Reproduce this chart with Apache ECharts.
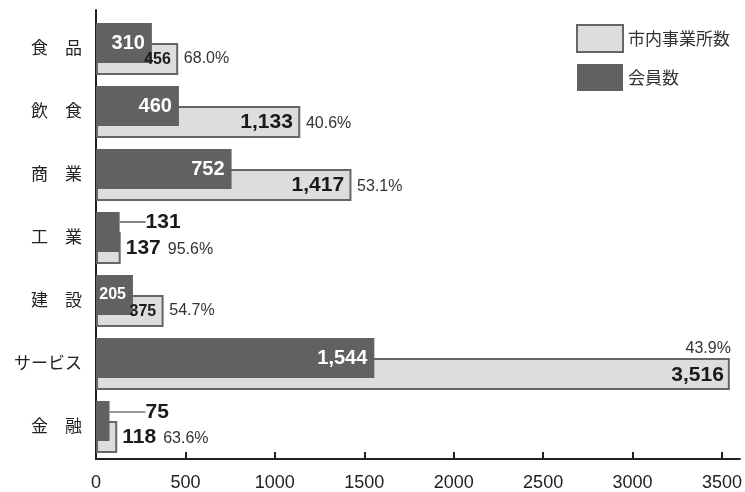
<!DOCTYPE html>
<html>
<head>
<meta charset="utf-8">
<script src="https://cdn.jsdelivr.net/npm/echarts@6/dist/echarts.min.js"></script>
<style>
html, body { margin: 0; padding: 0; background: #fff; }
#chart { width: 745px; height: 492px; }
</style>
</head>
<body>
<div id="chart"></div>
<script>
// 業種別 市内事業所数と会員数
var categories = ['食　品', '飲　食', '商　業', '工　業', '建　設', 'サービス', '金　融'];
var establishments = [456, 1133, 1417, 137, 375, 3516, 118];
var members = [310, 460, 752, 131, 205, 1544, 75];
var memberRates = [68.0, 40.6, 53.1, 95.6, 54.7, 43.9, 63.6];
var xTicks = [0, 500, 1000, 1500, 2000, 2500, 3000, 3500];
var seriesNames = ['市内事業所数', '会員数'];

var numFont = "'Liberation Sans', Arial, sans-serif";
var cjkFont = "'Noto Sans CJK JP', 'Noto Sans', sans-serif";

var narrowIdx = [0, 4];   // 幅の狭いバーは小さい文字
var outsideIdx = [3, 6];  // 値ラベルをバーの外に出す
var aboveIdx = 5;         // サービス：率をバーの上に

function fmt(v) { return v.toLocaleString('en-US'); }
function pct(i) { return memberRates[i].toFixed(1) + '%'; }

var rich = {
    v: { fontFamily: numFont, fontWeight: 'bold', fontSize: 21, color: '#1a1a1a', verticalAlign: 'bottom' },
    vs: { fontFamily: numFont, fontWeight: 'bold', fontSize: 16, color: '#1a1a1a', verticalAlign: 'bottom' },
    vr: { fontFamily: numFont, fontWeight: 'bold', fontSize: 21, color: '#1a1a1a', lineHeight: 26, padding: [0, 7, 0, 0] },
    s: { width: 13 },
    s2: { width: 7 },
    p: { fontFamily: numFont, fontSize: 16, color: '#333', verticalAlign: 'bottom', padding: [0, 0, 1, 0] },
    pt: { fontFamily: numFont, fontSize: 16, color: '#333', lineHeight: 26 },
    w: { fontFamily: numFont, fontWeight: 'bold', fontSize: 20, color: '#fff' },
    ws: { fontFamily: numFont, fontWeight: 'bold', fontSize: 16, color: '#fff' },
    d: { fontFamily: numFont, fontWeight: 'bold', fontSize: 21, color: '#1a1a1a' }
};

// 市内事業所数（薄いグレー）
var estData = establishments.map(function (v, i) {
    var item = { value: v };
    if (outsideIdx.indexOf(i) >= 0) {
        item.label = { position: 'right', distance: 5, offset: [0, 0] };
    } else if (i === aboveIdx) {
        item.label = { position: 'insideRight', distance: 0, offset: [1, -12] };
    }
    return item;
});

// 会員数（濃いグレー）
var memData = members.map(function (v, i) {
    var item = { value: v };
    if (outsideIdx.indexOf(i) >= 0) {
        item.label = { position: 'right', distance: 5 };
        item.labelLine = { show: true, lineStyle: { color: '#333', width: 1.2 } };
    }
    return item;
});

var option = {
    animation: false,
    backgroundColor: '#ffffff',
    legend: {
        data: seriesNames,
        orient: 'vertical',
        icon: 'rect',
        left: 571,
        top: 19,
        itemWidth: 46,
        itemHeight: 27,
        itemGap: 11,
        textStyle: { fontFamily: cjkFont, fontSize: 17, color: '#333' }
    },
    grid: [
        { left: 96, top: 21.5, width: 652, height: 441 },
        { left: 96, top: 10, width: 652, height: 455 }
    ],
    xAxis: [
        { type: 'value', gridIndex: 0, min: 0, max: 3600, show: false },
        {
            type: 'value', gridIndex: 1, min: 0, max: 3600, position: 'bottom',
            axisLine: { show: true, onZero: false, lineStyle: { color: '#222', width: 2 } },
            axisTick: { show: true, inside: true, length: 7, customValues: xTicks, lineStyle: { color: '#222', width: 2 } },
            axisLabel: {
                customValues: xTicks, margin: 15, fontSize: 18, color: '#222', fontFamily: numFont,
                formatter: function (v) { return String(v); }
            },
            splitLine: { show: false }
        }
    ],
    yAxis: [
        {
            type: 'category', gridIndex: 0, inverse: true, data: categories,
            axisLine: { show: false },
            axisTick: { show: false },
            axisLabel: {
                margin: 14, fontSize: 17, color: '#222', fontFamily: cjkFont,
                verticalAlign: 'bottom', lineHeight: 10
            }
        },
        {
            type: 'value', gridIndex: 1, min: 0, max: 1,
            axisLine: { show: true, lineStyle: { color: '#222', width: 2 } },
            axisTick: { show: false },
            axisLabel: { show: false },
            splitLine: { show: false }
        }
    ],
    series: [
        {
            name: seriesNames[0],
            type: 'bar',
            xAxisIndex: 0,
            yAxisIndex: 0,
            barWidth: 32,
            barGap: '-162.5%',
            data: estData,
            itemStyle: { color: '#dcdddf', borderColor: '#666', borderWidth: 2 },
            label: {
                show: true,
                position: 'insideRight',
                distance: 0,
                offset: [51, 0],
                rich: rich,
                formatter: function (p) {
                    var i = p.dataIndex;
                    var v = fmt(establishments[i]);
                    if (outsideIdx.indexOf(i) >= 0) return '{v|' + v + '}{s2|}{p|' + pct(i) + '}';
                    if (i === aboveIdx) return '{pt|' + pct(i) + '}\n{vr|' + v + '}';
                    var vs = narrowIdx.indexOf(i) >= 0 ? 'vs' : 'v';
                    return '{' + vs + '|' + v + '}{s|}{p|' + pct(i) + '}';
                }
            }
        },
        {
            name: seriesNames[1],
            type: 'bar',
            xAxisIndex: 0,
            yAxisIndex: 0,
            barWidth: 40,
            data: memData,
            itemStyle: { color: '#616164' },
            label: {
                show: true,
                position: 'insideRight',
                distance: 7,
                rich: rich,
                formatter: function (p) {
                    var i = p.dataIndex;
                    if (outsideIdx.indexOf(i) >= 0) return '{d|' + fmt(members[i]) + '}';
                    if (i === 4) return '{ws|' + fmt(members[i]) + '}';
                    return '{w|' + fmt(members[i]) + '}';
                }
            },
            labelLayout: function (p) {
                if (p.dataIndex === 3) return { dx: 21, dy: -10 };
                if (p.dataIndex === 6) return { dx: 31, dy: -9 };
            }
        }
    ]
};

var myChart = echarts.init(document.getElementById('chart'));
myChart.setOption(option);
</script>
</body>
</html>
